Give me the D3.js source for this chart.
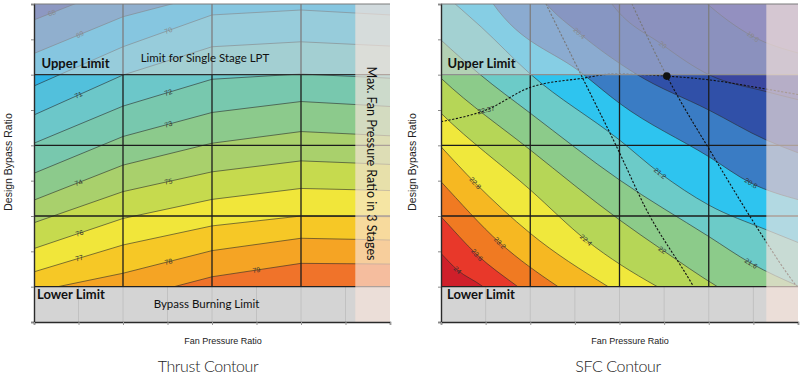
<!DOCTYPE html>
<html><head><meta charset="utf-8">
<script src="https://cdn.jsdelivr.net/npm/d3@7"></script>
<style>body{margin:0;background:#fff} svg{display:block}</style>
</head><body>
<svg id="c" width="800" height="380"></svg>
<script>
// ---------------- data ----------------
const xTicks = [0,1,2,3,4,5,6,7,8];
const yTicks = [0,1,2,3,4,5,6,7,8,9];
const gridX = [2,4,6];
const gridY = [3,5];
const lowerLimit = 1, upperLimit = 7;
const thrustMaxFan = 7.22, sfcMaxFan = 7.29;

// Thrust contour: y of each level line at thrustX
const thrustLevels = [68,69,70,71,72,73,74,75,76,77,78,79,80];
const thrustX = [0,2,4,6,8];
const thrustY = [
  [8.55, 9.54, 10.15, 10.34, 10.20],
  [7.60, 8.64, 9.30, 9.54, 9.40],
  [6.68, 7.79, 8.69, 8.83, 8.69],
  [5.86, 6.99, 7.79, 7.93, 7.81],
  [5.06, 6.11, 6.87, 7.02, 6.90],
  [4.21, 5.25, 5.93, 6.24, 6.10],
  [3.45, 4.44, 5.06, 5.39, 5.27],
  [2.81, 3.69, 4.25, 4.56, 4.46],
  [2.08, 2.93, 3.47, 3.78, 3.72],
  [1.42, 2.18, 2.72, 3.00, 2.98],
  [0.86, 1.38, 2.02, 2.37, 2.32],
  [0.15, 0.62, 1.28, 1.66, 1.64],
  [-0.51, -0.13, 0.62, 1.00, 0.98]
];
const thrustLabelX = [0.40, 1.03, 3.02, 1.00, 3.02, 3.02, 1.00, 3.02, 1.02, 1.02, 3.02, 5.00, null];
const thrustColors = ['#3d55a8','#4385c1','#2fb3e6','#52c0dc','#6cc7c9','#78c8ae','#8cca8c',
                      '#a9d06c','#c6da4e','#f1e63a','#f6c826','#f5a424','#f0732a','#e84a2a'];

// SFC contour: polyline points [fan pressure, bypass] per level
const sfcLevels = [19.6, 20.0, 20.4, 20.8, 21.2, 21.6, 22.0, 22.4, 22.8, 23.2, 23.6, 24.0];
const sfcLines = [
  [[5.12,10.06],[5.87,9.11],[6.99,8.08],[8.04,7.60]],
  [[3.33,10.06],[3.77,9.11],[4.97,7.84],[6.02,6.99],[7.29,6.52],[8.04,6.28]],
  [[1.76,10.06],[2.35,9.02],[3.10,8.17],[4.37,7.02],[6.00,6.00],[7.29,5.15],[8.04,4.77]],
  [[0.64,10.06],[1.16,9.02],[3.18,7.02],[4.00,6.19],[6.00,4.68],[6.95,3.93],[8.04,3.45]],
  [[-0.86,10.3],[0,9.35],[0.9,8.35],[2.00,7.02],[4.00,5.15],[4.91,4.21],[6.00,3.31],[7.29,2.61],[8.04,2.23]],
  [[-0.86,9.02],[0,7.98],[0.86,7.02],[2.00,5.91],[4.00,4.02],[6.00,2.42],[6.95,1.66],[8.04,1.00]],
  [[-0.86,7.98],[0,6.90],[2.00,4.87],[4.00,2.89],[4.96,2.04],[6.17,1.02],[6.99,0.44]],
  [[-0.86,7.04],[0,5.91],[2.00,3.74],[3.25,2.32],[4.82,1.02],[5.57,0.53]],
  [[-0.86,6.14],[0,4.96],[0.77,3.93],[2.00,2.51],[3.72,1.02],[4.37,0.53]],
  [[-0.86,5.15],[0,3.97],[1.32,2.24],[2.60,1.02],[3.33,0.44]],
  [[-0.86,4.11],[0,2.98],[0.81,1.90],[1.70,1.02],[2.35,0.44]],
  [[-0.86,3.08],[0,1.94],[0.37,1.47],[0.92,1.02],[1.53,0.34]]
];
const sfcLabelText = ['19.6','20','20.4','20.8','21.2','21.6','22','22.4','22.8','23.2','23.6','24'];
const sfcLabelX = [6.99, 4.97, 3.10, 6.95, 4.91, 6.95, 4.96, 3.25, 0.77, 1.32, 0.81, 0.37];
const sfcColors = ['#4a44a4','#3a46a0','#3050a8','#3a7cc4','#2ec4ef','#6ccbc8','#8ccb8a',
                   '#b6d657','#f0e83c','#f6b822','#f07a22','#e8382a','#cf1f2a'];

const optimumCurve = [[0,5.67],[1.01,6.00],[2.00,6.64],[3.18,6.90],[3.86,7.02],[5.06,6.96],[6.03,6.85],[7.30,6.59],[8.04,6.43]];
const optimumLabel = {text:'22.37', x:1.01};
const limitLineA = [[2.31,9.11],[3.16,6.94],[3.97,4.87],[4.57,3.26],[5.65,1.02],[5.87,0.53]];
const limitLineB = [[4.24,9.11],[5.06,6.96],[6.11,4.68],[7.26,2.32],[7.81,1.28],[8.1,0.8]];
const designPoint = [5.06, 6.96];

// ---------------- drawing ----------------
const svg = d3.select('#c');
const defs = svg.append('defs');
const TOP = 4, BOT = 322;

function setup(id, x0, x1){
  const x = d3.scaleLinear().domain([0,8]).range([x0,x1]);
  const y = d3.scaleLinear().domain([0,9]).range([BOT,TOP]);
  defs.append('clipPath').attr('id',id).append('rect')
    .attr('x',x0).attr('y',TOP).attr('width',x1-x0).attr('height',BOT-TOP);
  const g = svg.append('g').attr('clip-path',`url(#${id})`);
  return {x,y,g,x0,x1};
}
function interp(pts, xv){
  for(let i=0;i<pts.length-1;i++){
    const a=pts[i], b=pts[i+1];
    if(xv>=a[0] && xv<=b[0]){ const t=(xv-a[0])/(b[0]-a[0]); return [a[1]+t*(b[1]-a[1]), a, b]; }
  }
  return [pts[pts.length-1][1], pts[pts.length-2], pts[pts.length-1]];
}
function contourLabel(C, g, text, pts, xv, color){
  const [yv,a,b] = interp(pts, xv);
  const ang = Math.atan2(C.y(b[1])-C.y(a[1]), C.x(b[0])-C.x(a[0]))*180/Math.PI;
  g.append('text').attr('transform',`translate(${C.x(xv)},${C.y(yv)}) rotate(${ang})`)
    .attr('text-anchor','middle').attr('dy','0.35em')
    .attr('font-family','Liberation Sans, Arial, sans-serif').attr('font-size',7)
    .attr('fill',color||'#333').text(text);
}
function overlays(C, maxFan, limitColor){
  const g=C.g;
  // washed region above upper limit
  g.append('rect').attr('x',C.x0).attr('width',C.x1-C.x0)
    .attr('y',C.y(9)).attr('height',C.y(upperLimit)-C.y(9))
    .attr('fill','rgb(214,214,218)').attr('fill-opacity',0.52);
  // bypass burning region
  g.append('rect').attr('x',C.x0).attr('width',C.x1-C.x0)
    .attr('y',C.y(lowerLimit)).attr('height',C.y(0)-C.y(lowerLimit)).attr('fill','#d4d4d4');
  g.selectAll(null).data(xTicks.slice(1,-1)).join('line')
    .attr('x1',d=>C.x(d)).attr('x2',d=>C.x(d)).attr('y1',C.y(lowerLimit)).attr('y2',C.y(0))
    .attr('stroke','#bdbdbd').attr('stroke-width',0.8);
  // limit lines
  g.append('line').attr('x1',C.x0).attr('x2',C.x1).attr('y1',C.y(lowerLimit)).attr('y2',C.y(lowerLimit))
    .attr('stroke','#222').attr('stroke-width',1.4);
  g.append('line').attr('x1',C.x0).attr('x2',C.x1).attr('y1',C.y(upperLimit)).attr('y2',C.y(upperLimit))
    .attr('stroke',limitColor).attr('stroke-width',1.3);
  // max fan pressure band
  g.append('rect').attr('x',C.x(maxFan)).attr('width',C.x1-C.x(maxFan))
    .attr('y',TOP).attr('height',BOT-TOP)
    .attr('fill','rgb(247,228,218)').attr('fill-opacity',0.66);
}
function grid(C){
  C.g.selectAll(null).data(gridX).join('line')
    .attr('x1',d=>C.x(d)).attr('x2',d=>C.x(d)).attr('y1',TOP).attr('y2',BOT)
    .attr('stroke','#1c1c1c').attr('stroke-width',1.3);
  C.g.selectAll(null).data(gridY).join('line')
    .attr('x1',C.x0).attr('x2',C.x1).attr('y1',d=>C.y(d)).attr('y2',d=>C.y(d))
    .attr('stroke','#1c1c1c').attr('stroke-width',1.4);
}
function axes(C){
  svg.append('g').attr('transform',`translate(${C.x0},0)`)
    .call(d3.axisLeft(C.y).tickValues(yTicks).tickSize(3).tickFormat(''))
    .call(s=>{s.select('.domain').attr('stroke','#2a2a2a').attr('stroke-width',1.4);s.selectAll('.tick line').attr('stroke','#888');});
  svg.append('g').attr('transform',`translate(0,${BOT})`)
    .call(d3.axisBottom(C.x).tickValues(xTicks).tickSize(3).tickFormat(''))
    .call(s=>{s.select('.domain').attr('stroke','#2a2a2a').attr('stroke-width',1.4);s.selectAll('.tick line').attr('stroke','#999');});
  svg.append('line').attr('x1',C.x0).attr('x2',C.x1).attr('y1',TOP).attr('y2',TOP)
    .attr('stroke','#7a7a7a').attr('stroke-width',1);
}
function txt(x,y,s,opt){
  const t=svg.append('text').attr('x',x).attr('y',y).text(s)
    .attr('font-family',opt.family||'Lato, Open Sans, sans-serif')
    .attr('font-size',opt.size).attr('fill',opt.fill||'#111')
    .attr('font-weight',opt.weight||'normal').attr('text-anchor',opt.anchor||'start');
  if(opt.transform) t.attr('transform',opt.transform);
  if(opt.ls) t.attr('letter-spacing',opt.ls);
  return t;
}

// ----- Thrust contour (left) -----
const A = setup('clipL', 34, 390);
A.g.append('rect').attr('x',A.x0).attr('y',TOP).attr('width',A.x1-A.x0).attr('height',BOT-TOP).attr('fill',thrustColors[0]);
const tArea = d3.area().x((d,i)=>A.x(thrustX[i])).y0(A.y(-3)).y1(d=>A.y(d));
const tLine = d3.line().x((d,i)=>A.x(thrustX[i])).y(d=>A.y(d));
thrustY.forEach((row,i)=>A.g.append('path').datum(row).attr('d',tArea).attr('fill',thrustColors[i+1]));
thrustY.forEach(row=>A.g.append('path').datum(row).attr('d',tLine).attr('fill','none')
  .attr('stroke','#2b2b2b').attr('stroke-width',0.7).attr('stroke-opacity',0.85));
grid(A);
thrustY.forEach((row,i)=>{ if(thrustLabelX[i]!==null)
  contourLabel(A, A.g, String(thrustLevels[i]), row.map((v,j)=>[thrustX[j],v]), thrustLabelX[i]); });
overlays(A, thrustMaxFan, '#2e2e2e');
axes(A);

// ----- SFC contour (right) -----
const B = setup('clipR', 441, 798);
B.g.append('rect').attr('x',B.x0).attr('y',TOP).attr('width',B.x1-B.x0).attr('height',BOT-TOP).attr('fill',sfcColors[0]);
const sLine = d3.line().x(d=>B.x(d[0])).y(d=>B.y(d[1])).curve(d3.curveMonotoneX);
sfcLines.forEach((pts,i)=>{
  const f=pts[0], l=pts[pts.length-1];
  const close = `L${B.x(l[0])},${B.y(-3)}L${B.x(-3)},${B.y(-3)}L${B.x(-3)},${B.y(f[1])}Z`;
  B.g.append('path').attr('d', sLine(pts)+close).attr('fill',sfcColors[i+1]);
});
sfcLines.forEach(pts=>B.g.append('path').attr('d',sLine(pts)).attr('fill','none')
  .attr('stroke','#2b2b2b').attr('stroke-width',0.7).attr('stroke-opacity',0.85));
grid(B);
[optimumCurve, limitLineA, limitLineB].forEach(pts=>B.g.append('path')
  .attr('d', d3.line().x(d=>B.x(d[0])).y(d=>B.y(d[1])).curve(d3.curveMonotoneX)(pts))
  .attr('fill','none').attr('stroke','#111').attr('stroke-width',1.1).attr('stroke-dasharray','2.2,1.6'));
sfcLines.forEach((pts,i)=>contourLabel(B, B.g, sfcLabelText[i], pts, sfcLabelX[i]));
contourLabel(B, B.g, optimumLabel.text, optimumCurve, optimumLabel.x);
overlays(B, sfcMaxFan, '#8f8f8f');
B.g.append('circle').attr('cx',B.x(designPoint[0])).attr('cy',B.y(designPoint[1])).attr('r',3.8).attr('fill','#111');
axes(B);

// ----- texts -----
txt(41.5,68,'Upper Limit',{size:13,weight:'bold'});
txt(205,62,'Limit for Single Stage LPT',{size:11.5,anchor:'middle'});
txt(37,299,'Lower Limit',{size:13,weight:'bold'});
txt(206.5,308,'Bypass Burning Limit',{size:11.5,anchor:'middle'});
txt(0,0,'Max. Fan Pressure Ratio in 3 Stages',{size:12.5,anchor:'middle',transform:'translate(367,163.5) rotate(90)'});
txt(447.5,68,'Upper Limit',{size:13,weight:'bold'});
txt(447,299,'Lower Limit',{size:13,weight:'bold'});
const axisFont = 'Liberation Sans, Arial, sans-serif';
txt(223,344,'Fan Pressure Ratio',{size:9,anchor:'middle',family:axisFont,fill:'#222'});
txt(630,344,'Fan Pressure Ratio',{size:9,anchor:'middle',family:axisFont,fill:'#222'});
txt(0,0,'Design Bypass Ratio',{size:10.5,anchor:'middle',family:axisFont,fill:'#222',transform:'translate(12,162) rotate(-90)'});
txt(0,0,'Design Bypass Ratio',{size:10.5,anchor:'middle',family:axisFont,fill:'#222',transform:'translate(416,162) rotate(-90)'});
txt(208,372,'Thrust Contour',{size:16,anchor:'middle',weight:300,fill:'#222',ls:-0.4});
txt(618,372,'SFC Contour',{size:16,anchor:'middle',weight:300,fill:'#222',ls:-0.4});
</script>
</body></html>
